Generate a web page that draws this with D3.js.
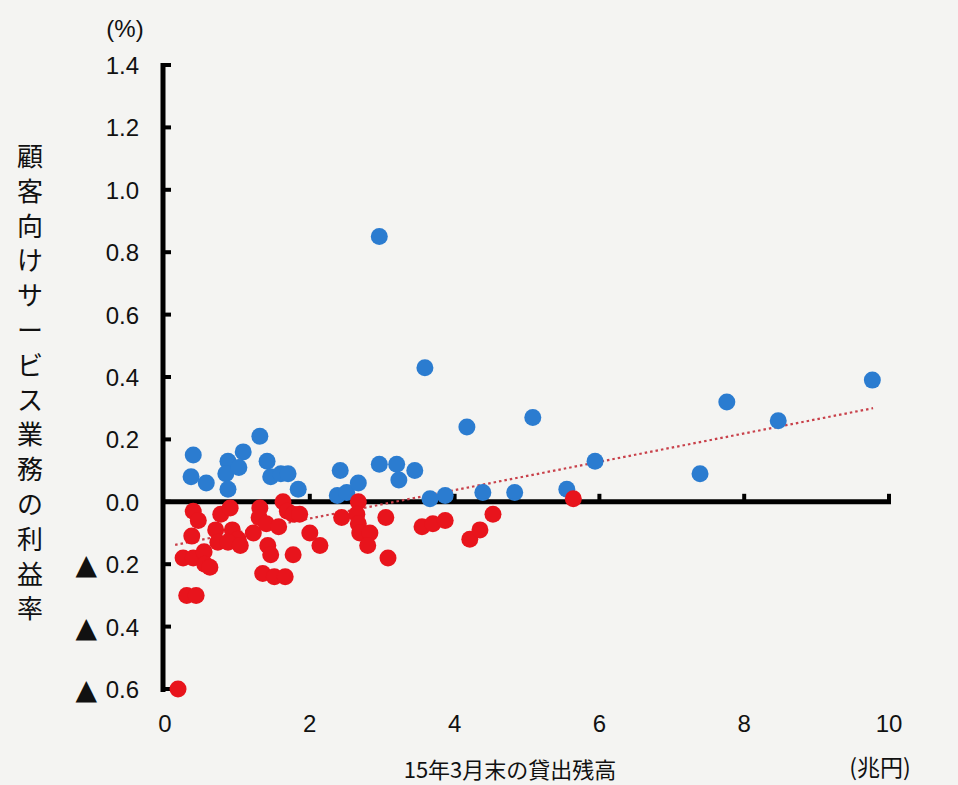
<!DOCTYPE html>
<html>
<head>
<meta charset="utf-8">
<script src="https://cdn.jsdelivr.net/npm/d3@7"></script>
<style>
  body { margin: 0; background: #f4f4f2; }
  svg text { font-family: "Liberation Sans", Arial, sans-serif; fill: #111; }
  .jp { font-family: "Noto Sans CJK JP", sans-serif; }
</style>
</head>
<body>
<div id="chart"></div>
<script>
// 貸出残高 (兆円) と 利益率 (%)
const blueX = [0.39, 0.36, 0.57, 0.87, 0.84, 0.87, 1.02, 1.08, 1.31, 1.41, 1.46, 1.60, 1.70, 1.84,
               2.42, 2.38, 2.51, 2.67, 2.96, 3.20, 3.23, 3.45, 3.66, 3.87, 4.17, 4.39, 4.83, 5.08,
               5.55, 5.94, 7.39, 7.76, 8.47, 9.77, 2.96, 3.59];
const blueY = [0.15, 0.08, 0.06, 0.13, 0.09, 0.04, 0.11, 0.16, 0.21, 0.13, 0.08, 0.09, 0.09, 0.04,
               0.10, 0.02, 0.03, 0.06, 0.12, 0.12, 0.07, 0.10, 0.01, 0.02, 0.24, 0.03, 0.03, 0.27,
               0.04, 0.13, 0.09, 0.32, 0.26, 0.39, 0.85, 0.43];

const redX = [0.39, 0.46, 0.37, 0.25, 0.39, 0.54, 0.55, 0.62, 0.77, 0.70, 0.73, 0.90, 0.93, 1.01,
              0.87, 1.04, 1.22, 1.31, 1.30, 1.40, 1.42, 1.46, 1.63, 1.69, 1.77, 1.57, 1.77, 1.35,
              1.51, 1.66, 2.00, 2.14, 0.30, 0.43, 0.18, 1.86, 2.44, 2.67, 2.65, 2.67, 2.69, 2.83,
              2.80, 3.05, 3.08, 3.55, 3.70, 3.87, 4.21, 4.35, 4.53, 5.64];
const redY = [-0.03, -0.06, -0.11, -0.18, -0.18, -0.16, -0.20, -0.21, -0.04, -0.09, -0.13, -0.02, -0.09, -0.12,
              -0.13, -0.14, -0.10, -0.02, -0.05, -0.07, -0.14, -0.17, 0.00, -0.03, -0.04, -0.08, -0.17, -0.23,
              -0.24, -0.24, -0.10, -0.14, -0.30, -0.30, -0.60, -0.04, -0.05, 0.00, -0.04, -0.07, -0.10, -0.10,
              -0.14, -0.05, -0.18, -0.08, -0.07, -0.06, -0.12, -0.09, -0.04, 0.01];

// 近似線の両端
const trendX = [0.14, 9.78];
const trendY = [-0.138, 0.30];

const xTicks = [0, 2, 4, 6, 8, 10];
const yTicks = [1.4, 1.2, 1.0, 0.8, 0.6, 0.4, 0.2, 0.0, -0.2, -0.4, -0.6];
const yTitle = "顧客向けサービス業務の利益率";

const width = 958, height = 785;

const svg = d3.select("#chart").append("svg")
    .attr("width", width)
    .attr("height", height);

const x = d3.scaleLinear().domain([0, 10]).range([165, 889]);
const y = d3.scaleLinear().domain([-0.6, 1.4]).range([689, 65]);

// y-axis line + ticks
svg.append("line")
    .attr("x1", x(0) - 2).attr("x2", x(0) - 2)
    .attr("y1", y(1.4) - 2).attr("y2", y(-0.6) + 3)
    .attr("stroke", "#000").attr("stroke-width", 5);

svg.selectAll(".ytick")
    .data(yTicks)
    .enter().append("line")
    .attr("x1", x(0)).attr("x2", x(0) + 6)
    .attr("y1", d => y(d)).attr("y2", d => y(d))
    .attr("stroke", "#000").attr("stroke-width", 4);

// y labels (negative values with ▲)
const yLab = svg.selectAll(".ylab")
    .data(yTicks)
    .enter().append("g")
    .attr("transform", d => `translate(139,${y(d) + 9})`);

yLab.append("text")
    .attr("text-anchor", "end")
    .attr("font-size", 24)
    .text(d => Math.abs(d).toFixed(1));

yLab.filter(d => d < 0).append("text")
    .attr("x", -42)
    .attr("y", 1)
    .attr("text-anchor", "end")
    .attr("font-size", 28)
    .style("font-family", "'DejaVu Sans', sans-serif")
    .text("▲");

svg.append("text")
    .attr("x", 125).attr("y", 37)
    .attr("text-anchor", "middle")
    .attr("font-size", 24)
    .text("(%)");

// x-axis line at 0 + ticks
svg.append("line")
    .attr("x1", x(0) - 4).attr("x2", x(10) + 2)
    .attr("y1", y(0)).attr("y2", y(0))
    .attr("stroke", "#000").attr("stroke-width", 5);

svg.selectAll(".xtick")
    .data(xTicks.slice(1))
    .enter().append("line")
    .attr("x1", d => x(d)).attr("x2", d => x(d))
    .attr("y1", y(0)).attr("y2", y(0) - 8)
    .attr("stroke", "#000").attr("stroke-width", 4);

svg.selectAll(".xlab")
    .data(xTicks)
    .enter().append("text")
    .attr("x", d => x(d))
    .attr("y", 732)
    .attr("text-anchor", "middle")
    .attr("font-size", 24)
    .text(d => d);

// titles
svg.append("text")
    .attr("class", "jp")
    .attr("x", 510).attr("y", 778)
    .attr("text-anchor", "middle")
    .attr("font-size", 22)
    .text("15年3月末の貸出残高");

svg.append("text")
    .attr("class", "jp")
    .attr("x", 880).attr("y", 776)
    .attr("text-anchor", "middle")
    .attr("font-size", 23)
    .text("(兆円)");

svg.append("text")
    .attr("class", "jp")
    .attr("font-size", 26)
    .attr("text-anchor", "middle")
    .selectAll("tspan")
    .data(yTitle.split(""))
    .enter().append("tspan")
    .attr("x", 30)
    .attr("y", (d, i) => 166 + i * 34.8)
    .text(d => d);

// trend line
svg.append("line")
    .attr("x1", x(trendX[0])).attr("y1", y(trendY[0]))
    .attr("x2", x(trendX[1])).attr("y2", y(trendY[1]))
    .attr("stroke", "#c8404a")
    .attr("stroke-width", 2.2)
    .attr("stroke-dasharray", "2.5,3");

// dots
const blue = blueX.map((d, i) => ({ x: d, y: blueY[i] }));
const red = redX.map((d, i) => ({ x: d, y: redY[i] }));

svg.selectAll(".blue")
    .data(blue)
    .enter().append("circle")
    .attr("cx", d => x(d.x))
    .attr("cy", d => y(d.y))
    .attr("r", 8.5)
    .attr("fill", "#2b7cd0");

svg.selectAll(".red")
    .data(red)
    .enter().append("circle")
    .attr("cx", d => x(d.x))
    .attr("cy", d => y(d.y))
    .attr("r", 8.5)
    .attr("fill", "#e8141c");
</script>
</body>
</html>
